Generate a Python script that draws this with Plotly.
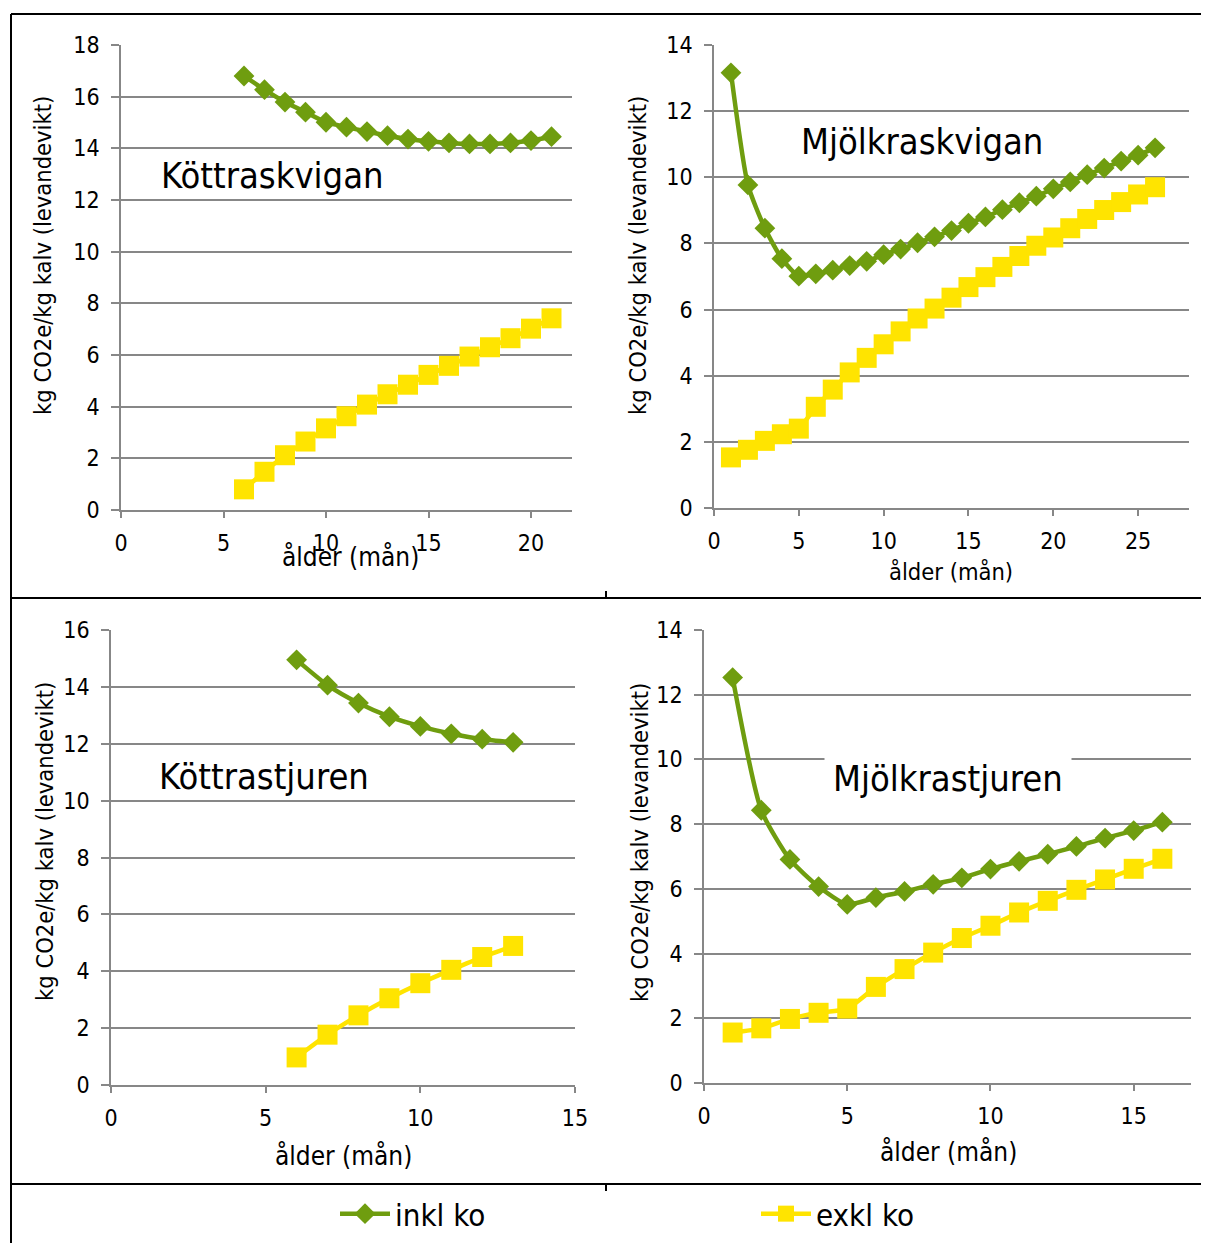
import plotly.graph_objects as go

# page body has an 8px margin: figure is drawn at (8, 8) in the window
OFF = 8
FW, FH = 1209 - OFF, 1243 - OFF

# ---------------- data ----------------
tl_x = list(range(6, 22))
tl_inkl = [16.80, 16.27, 15.79, 15.40, 15.01, 14.82, 14.65, 14.49, 14.36, 14.27, 14.21, 14.17, 14.17, 14.21, 14.30, 14.45]
tl_exkl = [0.80, 1.48, 2.12, 2.65, 3.16, 3.63, 4.08, 4.48, 4.85, 5.23, 5.58, 5.94, 6.30, 6.65, 7.02, 7.42]

tr_x = list(range(1, 27))
tr_inkl = [13.16, 9.77, 8.46, 7.54, 7.01, 7.08, 7.19, 7.33, 7.46, 7.66, 7.83, 8.02, 8.20, 8.39, 8.61, 8.80,
           9.02, 9.23, 9.43, 9.65, 9.86, 10.08, 10.28, 10.49, 10.67, 10.89]
tr_exkl = [1.53, 1.76, 2.03, 2.23, 2.40, 3.06, 3.58, 4.10, 4.54, 4.95, 5.34, 5.73, 6.03, 6.36, 6.68, 6.98,
           7.29, 7.62, 7.93, 8.18, 8.46, 8.74, 9.01, 9.25, 9.48, 9.70]

bl_x = list(range(6, 14))
bl_inkl = [14.95, 14.06, 13.43, 12.95, 12.61, 12.35, 12.16, 12.05]
bl_exkl = [0.97, 1.77, 2.45, 3.05, 3.58, 4.05, 4.50, 4.89]

br_x = list(range(1, 17))
br_inkl = [12.53, 8.43, 6.91, 6.07, 5.52, 5.73, 5.92, 6.14, 6.34, 6.61, 6.85, 7.07, 7.31, 7.57, 7.80, 8.06]
br_exkl = [1.56, 1.69, 1.98, 2.17, 2.30, 2.97, 3.52, 4.03, 4.48, 4.86, 5.27, 5.63, 5.97, 6.29, 6.62, 6.93]

panel_titles = ["Köttraskvigan", "Mjölkraskvigan", "Köttrastjuren", "Mjölkrastjuren"]
series_names = ["inkl ko", "exkl ko"]
y_title = "kg CO2e/kg kalv (levandevikt)"
x_title = "ålder (mån)"

GREEN = "#6f9d0f"
YELLOW = "#ffe400"
GRID = "#878787"
FONT = "DejaVu Sans Condensed, DejaVu Sans, sans-serif"
TICK = 23


def px(x):
    return (x - OFF) / FW


def py(y):
    return 1 - (y - OFF) / FH


# panel geometry in window pixels: (x0, x1, ytop, ybottom), x range max, y range max
panels = [
    dict(x=tl_x, a=tl_inkl, b=tl_exkl, dom=(121, 572, 45, 510), xr=22, yr=18),
    dict(x=tr_x, a=tr_inkl, b=tr_exkl, dom=(714, 1189, 45, 508), xr=28, yr=14),
    dict(x=bl_x, a=bl_inkl, b=bl_exkl, dom=(111, 575, 630, 1085), xr=15, yr=16),
    dict(x=br_x, a=br_inkl, b=br_exkl, dom=(704, 1191, 630, 1083), xr=17, yr=14),
]

fig = go.Figure()
layout = {}
for i, p in enumerate(panels):
    n = "" if i == 0 else str(i + 1)
    xa, ya = "x" + n, "y" + n
    fig.add_trace(go.Scatter(
        x=p["x"], y=p["a"], xaxis=xa, yaxis=ya, mode="lines+markers",
        name=series_names[0], legendgroup="a", showlegend=(i == 0),
        line=dict(color=GREEN, width=4.5, shape="spline", smoothing=0.6),
        marker=dict(symbol="diamond", size=16, color=GREEN),
        cliponaxis=False))
    fig.add_trace(go.Scatter(
        x=p["x"], y=p["b"], xaxis=xa, yaxis=ya, mode="lines+markers",
        name=series_names[1], legendgroup="b", showlegend=(i == 0),
        line=dict(color=YELLOW, width=4.5, shape="spline", smoothing=0.6),
        marker=dict(symbol="square", size=20, color=YELLOW),
        cliponaxis=False))
    x0, x1, yt, yb = p["dom"]
    layout["xaxis" + n] = dict(
        domain=[px(x0), px(x1)], anchor=ya, range=[0, p["xr"]], tick0=0, dtick=5,
        showgrid=False, zeroline=False, showline=True, linecolor=GRID, linewidth=1.5,
        ticks="outside", ticklen=6, tickwidth=1.5, tickcolor=GRID, automargin=False,
        tickfont=dict(size=TICK, color="black", family=FONT), ticklabelstandoff=6)
    layout["yaxis" + n] = dict(
        domain=[py(yb), py(yt)], anchor=xa, range=[0, p["yr"]], tick0=0, dtick=2,
        showgrid=True, gridcolor=GRID, gridwidth=1.5, zeroline=False,
        showline=True, linecolor=GRID, linewidth=1.5, automargin=False,
        ticks="outside", ticklen=8, tickwidth=1.5, tickcolor=GRID,
        tickfont=dict(size=TICK, color="black", family=FONT), ticklabelstandoff=7)

annotations = []
# panel titles
title_pos = [(272, 175, False), (922, 141, True), (264, 776, False), (948, 778, True)]
for t, (cx, cy, boxed) in zip(panel_titles, title_pos):
    annotations.append(dict(
        text=t, x=px(cx), y=py(cy), xref="paper", yref="paper", showarrow=False,
        xanchor="center", yanchor="middle",
        font=dict(size=36, color="black", family=FONT),
        bgcolor="white" if boxed else "rgba(0,0,0,0)", borderpad=8 if boxed else 0))
# y titles
for cx, cy in [(43, 256), (638, 256), (45, 842), (640, 843)]:
    annotations.append(dict(
        text=y_title, x=px(cx), y=py(cy), xref="paper", yref="paper", showarrow=False,
        xanchor="center", yanchor="middle", textangle=-90,
        font=dict(size=23.5, color="black", family=FONT)))
# x titles
for (cx, cy), fs in zip([(350, 557), (951, 572), (343, 1156), (948, 1152)], [26, 23.5, 26, 26]):
    annotations.append(dict(
        text=x_title, x=px(cx), y=py(cy), xref="paper", yref="paper", showarrow=False,
        xanchor="center", yanchor="middle",
        font=dict(size=fs, color="black", family=FONT)))

# frame lines (window pixel coordinates)
shapes = []
for (xa0, ya0, xa1, ya1) in [(11, 14, 1209, 14), (11, 14, 11, 1243), (11, 598, 1209, 598),
                             (11, 1184, 1209, 1184), (606, 591, 606, 598), (606, 1184, 606, 1191)]:
    shapes.append(dict(type="line", xref="paper", yref="paper",
                       x0=px(xa0), y0=py(ya0), x1=px(xa1), y1=py(ya1),
                       line=dict(color="black", width=2)))

fig.update_layout(
    width=FW, height=FH, margin=dict(l=0, r=0, t=0, b=0, pad=0, autoexpand=False),
    paper_bgcolor="white", plot_bgcolor="white",
    font=dict(family=FONT, color="black"),
    showlegend=True,
    legend=dict(orientation="h", x=px(335), y=py(1214), xanchor="left", yanchor="middle",
                entrywidth=356, entrywidthmode="pixels",
                font=dict(size=31, color="black", family=FONT),
                bgcolor="rgba(0,0,0,0)", itemwidth=50),
    annotations=annotations, shapes=shapes,
    **layout)

fig.write_html("out.html", config={"displayModeBar": False})
